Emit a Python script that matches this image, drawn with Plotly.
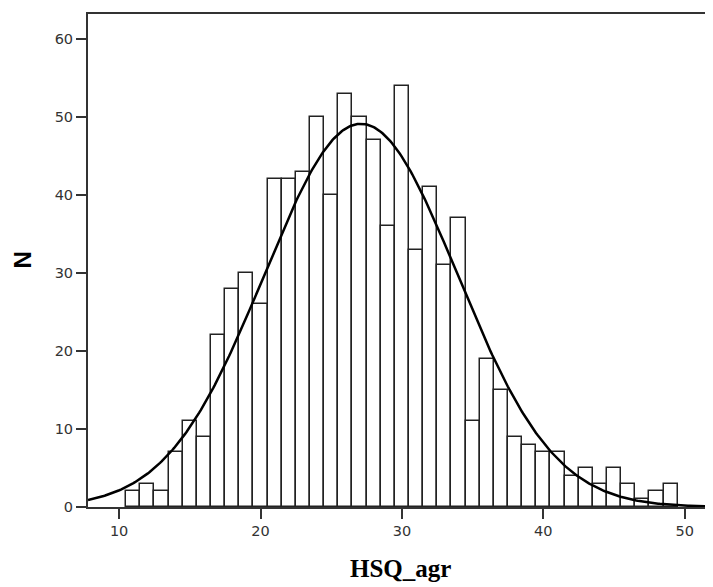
import numpy as np
import plotly.graph_objects as go

# Histogram data (bin centers, counts), bin width 1
bin_centers = list(range(11, 50))
counts = [2, 3, 2, 7, 11, 9, 22, 28, 30, 26,
          42, 42, 43, 50, 40, 53, 50, 47, 36, 54,
          33, 41, 31, 37, 11, 19, 15, 9, 8, 7,
          7, 4, 5, 3, 5, 3, 1, 2, 3]
x_ticks = [10, 20, 30, 40, 50]
y_ticks = [0, 10, 20, 30, 40, 50, 60]
x_title = "HSQ_agr"
y_title = "N"

xc = np.array(bin_centers, dtype=float)
cn = np.array(counts, dtype=float)
n_total = cn.sum()
mean = (xc * cn).sum() / n_total
sd = np.sqrt(((xc - mean) ** 2 * cn).sum() / (n_total - 1))

xr = [7.8, 52.0]
xs = np.linspace(xr[0], xr[1], 400)
ys = n_total * 1.0 / (sd * np.sqrt(2 * np.pi)) * np.exp(-0.5 * ((xs - mean) / sd) ** 2)

fig = go.Figure()
fig.add_trace(go.Bar(
    x=bin_centers, y=counts, width=1.0,
    marker=dict(color="white", line=dict(color="#222222", width=1.5)),
    hoverinfo="skip", showlegend=False,
))
fig.add_trace(go.Scatter(
    x=xs, y=ys, mode="lines",
    line=dict(color="black", width=2.5),
    hoverinfo="skip", showlegend=False,
))

# page body has an 8px margin; figure is sized so the plot lands where the reference has it
W, H = 705, 579
L, T, B = 80, 6, 80
PW, PH = W - L, H - T - B

axis_font = dict(family="DejaVu Sans", size=14.5, color="#333333")
fig.update_layout(
    width=W, height=H,
    margin=dict(l=L, r=0, t=T, b=B, pad=0),
    paper_bgcolor="white", plot_bgcolor="white",
    bargap=0,
    xaxis=dict(
        range=xr, tickvals=x_ticks, ticks="outside", ticklen=10, tickwidth=2,
        tickcolor="#333333", showline=True, linecolor="#333333", linewidth=2,
        mirror=True, showgrid=False, zeroline=False, tickfont=axis_font,
    ),
    yaxis=dict(
        range=[0, 63.2], tickvals=y_ticks, ticks="outside", ticklen=10, tickwidth=2,
        tickcolor="#333333", showline=True, linecolor="#333333", linewidth=2,
        showgrid=False, zeroline=False, tickfont=axis_font,
    ),
    annotations=[
        dict(text="<b>" + x_title + "</b>", xref="paper", yref="paper",
             x=0.5, y=-(568 - 507) / PH, xanchor="center", yanchor="middle",
             showarrow=False, font=dict(family="Liberation Serif", size=25, color="black")),
        dict(text="<b>" + y_title + "</b>", xref="paper", yref="paper",
             x=-(88 - 22) / PW, y=0.5, xanchor="center", yanchor="middle",
             textangle=-90, showarrow=False,
             font=dict(family="Liberation Sans", size=24, color="black")),
    ],
)

fig.write_html("out.html")
